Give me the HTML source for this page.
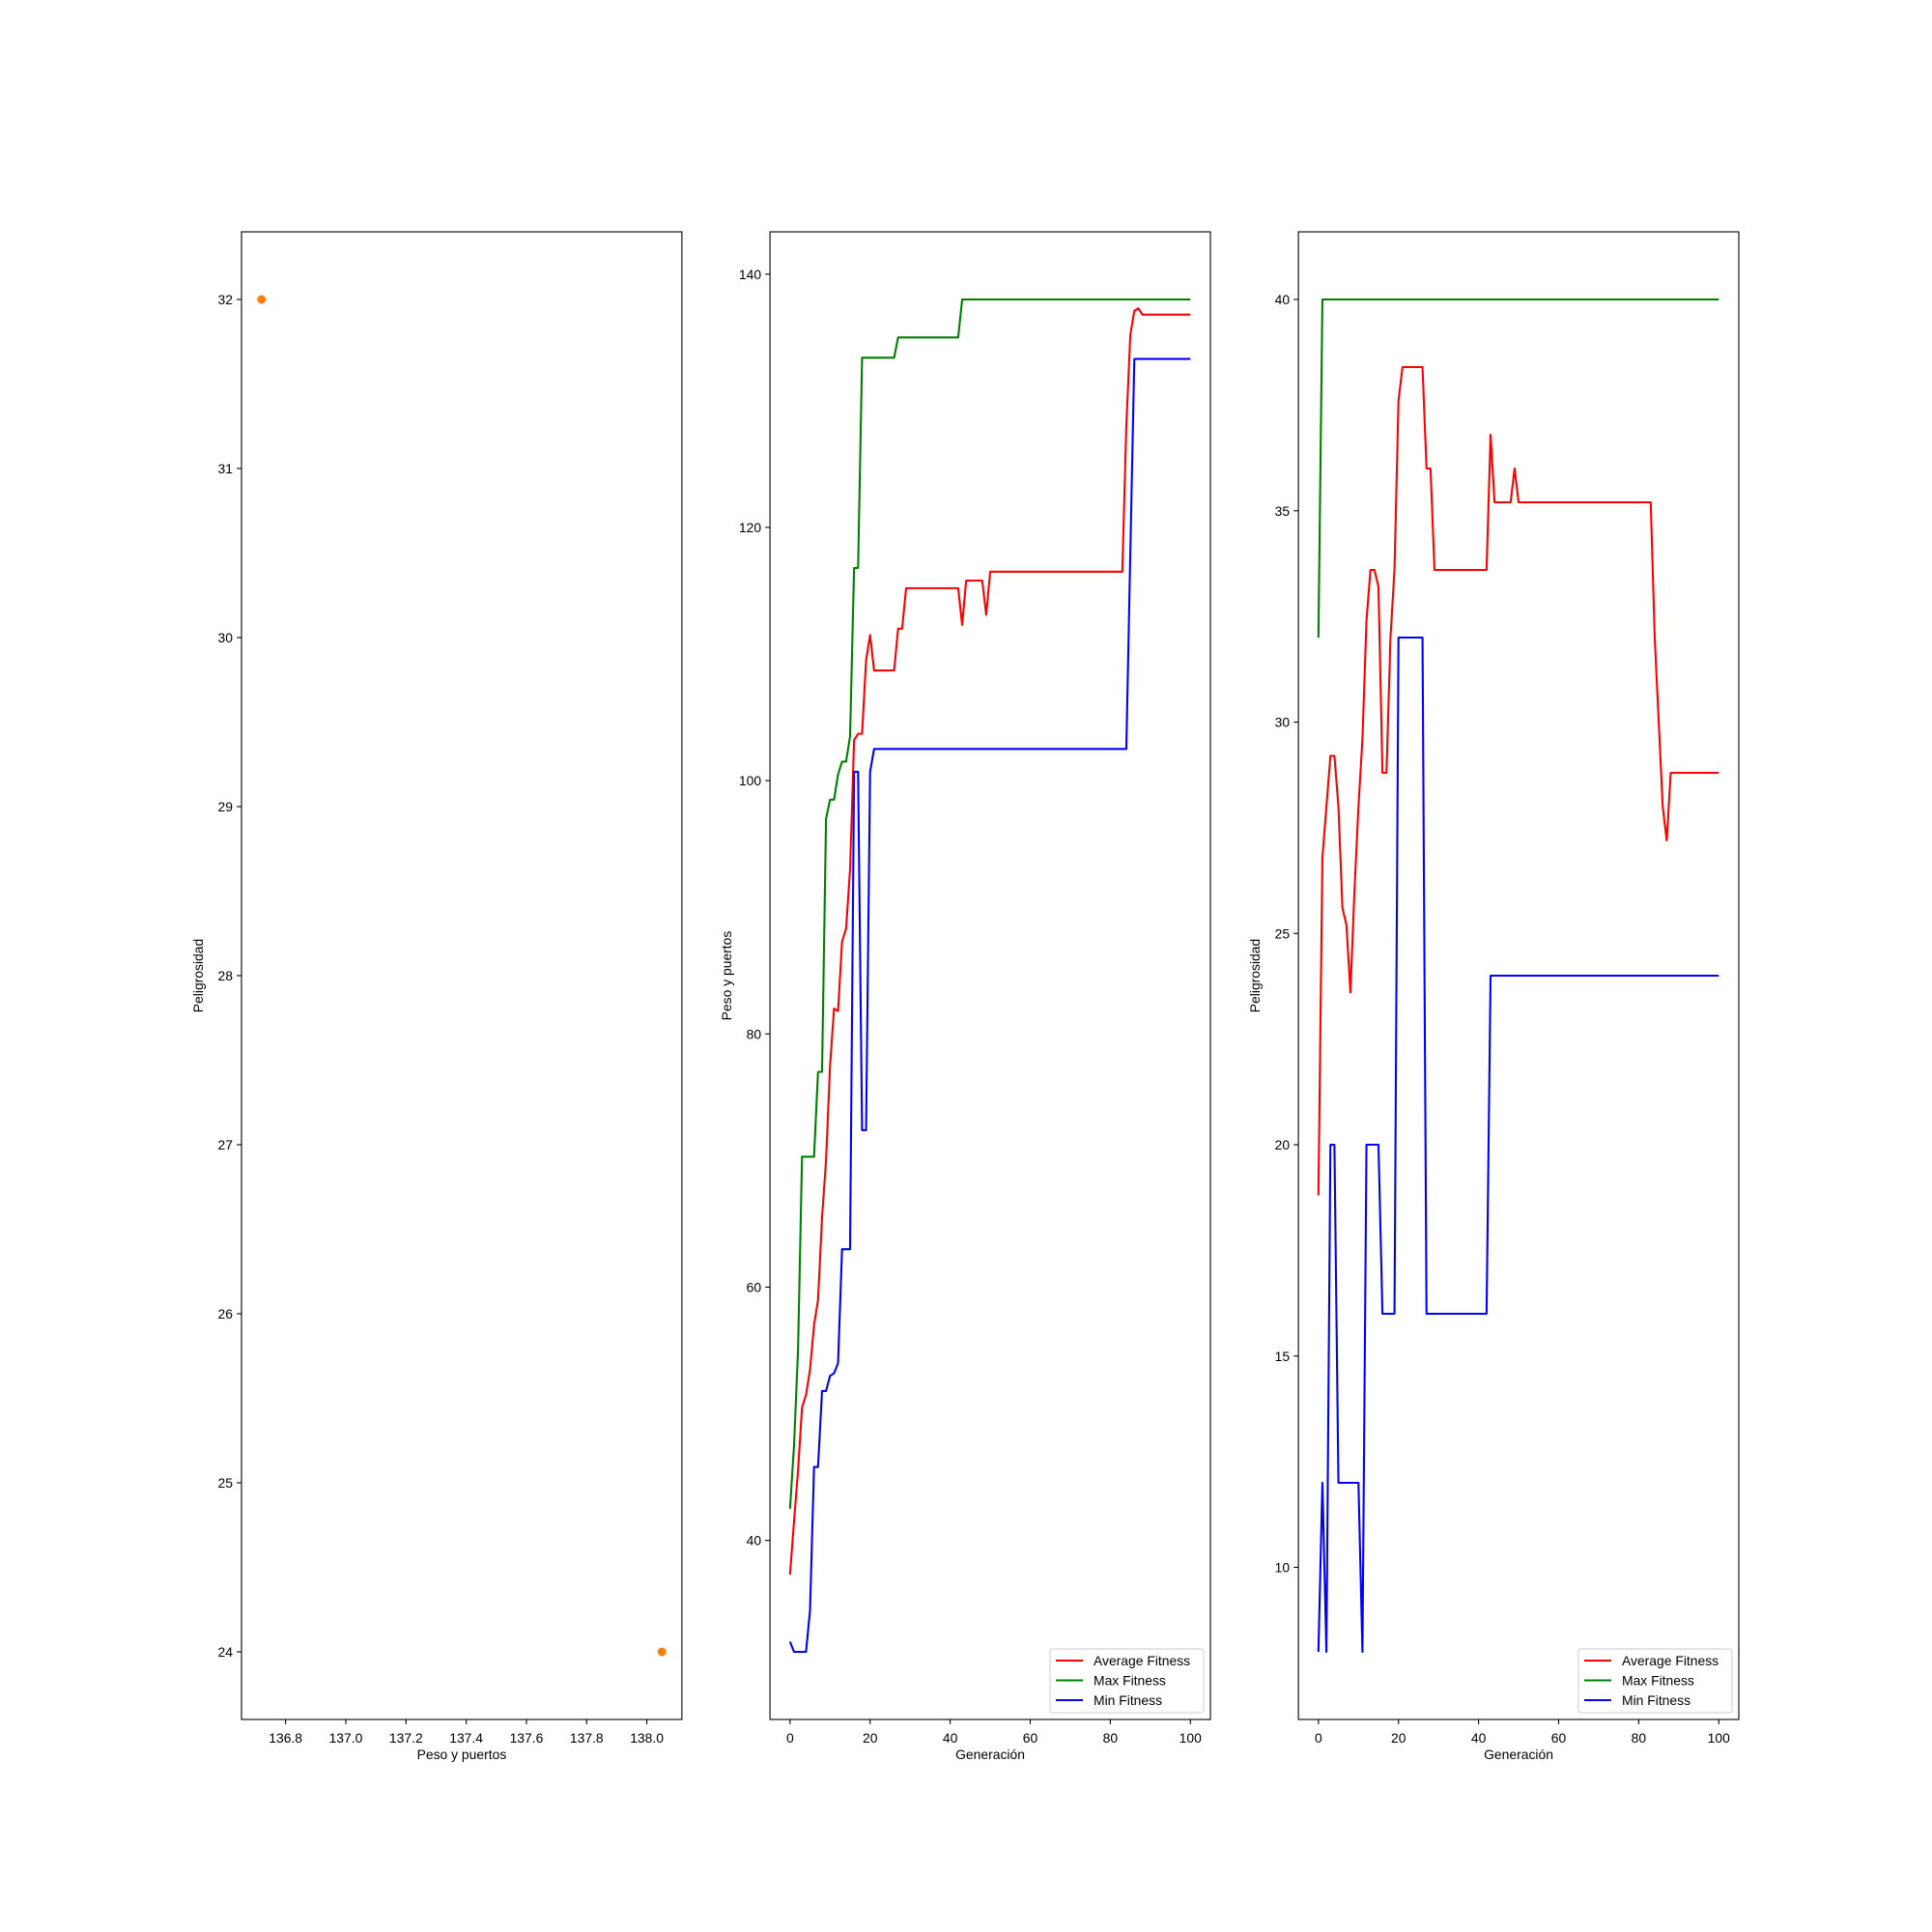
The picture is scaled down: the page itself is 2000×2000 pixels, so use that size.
<!DOCTYPE html>
<html><head><meta charset="utf-8"><style>
body{margin:0;background:#fff}
svg{display:block;font-family:"Liberation Sans","DejaVu Sans",sans-serif}
</style></head><body>
<svg id="fig" width="2000" height="2000" viewBox="0 0 2000 2000"></svg>
<script>
// ---- data ----
const scatterX = [136.72, 138.05];
const scatterY = [32, 24];
const scatterXTicks = [136.8, 137.0, 137.2, 137.4, 137.6, 137.8, 138.0];
const scatterYTicks = [24, 25, 26, 27, 28, 29, 30, 31, 32];

const gens = Array.from({length: 101}, (_, i) => i);
const w_avg = [37.3,41.5,45.5,50.5,51.5,53.5,57,59,65.5,70,77.5,82,81.8,87.3,88.3,93,103.2,103.7,103.7,109.5,111.5,108.7,108.7,108.7,108.7,108.7,108.7,112,112,115.2,115.2,115.2,115.2,115.2,115.2,115.2,115.2,115.2,115.2,115.2,115.2,115.2,115.2,112.3,115.8,115.8,115.8,115.8,115.8,113.1,116.5,116.5,116.5,116.5,116.5,116.5,116.5,116.5,116.5,116.5,116.5,116.5,116.5,116.5,116.5,116.5,116.5,116.5,116.5,116.5,116.5,116.5,116.5,116.5,116.5,116.5,116.5,116.5,116.5,116.5,116.5,116.5,116.5,116.5,128,135.2,137.1,137.3,136.8,136.8,136.8,136.8,136.8,136.8,136.8,136.8,136.8,136.8,136.8,136.8,136.8];
const w_max = [42.5,47.5,55,70.3,70.3,70.3,70.3,77,77,97,98.5,98.5,100.5,101.5,101.5,103.5,116.8,116.8,133.4,133.4,133.4,133.4,133.4,133.4,133.4,133.4,133.4,135,135,135,135,135,135,135,135,135,135,135,135,135,135,135,135,138,138,138,138,138,138,138,138,138,138,138,138,138,138,138,138,138,138,138,138,138,138,138,138,138,138,138,138,138,138,138,138,138,138,138,138,138,138,138,138,138,138,138,138,138,138,138,138,138,138,138,138,138,138,138,138,138,138];
const w_min = [32,31.2,31.2,31.2,31.2,34.5,45.8,45.8,51.8,51.8,53,53.2,54,63,63,63,100.7,100.7,72.4,72.4,100.7,102.5,102.5,102.5,102.5,102.5,102.5,102.5,102.5,102.5,102.5,102.5,102.5,102.5,102.5,102.5,102.5,102.5,102.5,102.5,102.5,102.5,102.5,102.5,102.5,102.5,102.5,102.5,102.5,102.5,102.5,102.5,102.5,102.5,102.5,102.5,102.5,102.5,102.5,102.5,102.5,102.5,102.5,102.5,102.5,102.5,102.5,102.5,102.5,102.5,102.5,102.5,102.5,102.5,102.5,102.5,102.5,102.5,102.5,102.5,102.5,102.5,102.5,102.5,102.5,118,133.3,133.3,133.3,133.3,133.3,133.3,133.3,133.3,133.3,133.3,133.3,133.3,133.3,133.3,133.3];
const wYTicks = [40, 60, 80, 100, 120, 140];

const d_avg = [18.8,26.8,28,29.2,29.2,28,25.6,25.2,23.6,26,28,29.6,32.4,33.6,33.6,33.2,28.8,28.8,32,33.6,37.6,38.4,38.4,38.4,38.4,38.4,38.4,36,36,33.6,33.6,33.6,33.6,33.6,33.6,33.6,33.6,33.6,33.6,33.6,33.6,33.6,33.6,36.8,35.2,35.2,35.2,35.2,35.2,36,35.2,35.2,35.2,35.2,35.2,35.2,35.2,35.2,35.2,35.2,35.2,35.2,35.2,35.2,35.2,35.2,35.2,35.2,35.2,35.2,35.2,35.2,35.2,35.2,35.2,35.2,35.2,35.2,35.2,35.2,35.2,35.2,35.2,35.2,32,30,28,27.2,28.8,28.8,28.8,28.8,28.8,28.8,28.8,28.8,28.8,28.8,28.8,28.8,28.8];
const d_max = [32,40,40,40,40,40,40,40,40,40,40,40,40,40,40,40,40,40,40,40,40,40,40,40,40,40,40,40,40,40,40,40,40,40,40,40,40,40,40,40,40,40,40,40,40,40,40,40,40,40,40,40,40,40,40,40,40,40,40,40,40,40,40,40,40,40,40,40,40,40,40,40,40,40,40,40,40,40,40,40,40,40,40,40,40,40,40,40,40,40,40,40,40,40,40,40,40,40,40,40,40];
const d_min = [8,12,8,20,20,12,12,12,12,12,12,8,20,20,20,20,16,16,16,16,32,32,32,32,32,32,32,16,16,16,16,16,16,16,16,16,16,16,16,16,16,16,16,24,24,24,24,24,24,24,24,24,24,24,24,24,24,24,24,24,24,24,24,24,24,24,24,24,24,24,24,24,24,24,24,24,24,24,24,24,24,24,24,24,24,24,24,24,24,24,24,24,24,24,24,24,24,24,24,24,24];
const dYTicks = [10, 15, 20, 25, 30, 35, 40];
const genTicks = [0, 20, 40, 60, 80, 100];
const legendLabels = ["Average Fitness", "Max Fitness", "Min Fitness"];

// ---- drawing ----
const NS = "http://www.w3.org/2000/svg";
const svg = document.getElementById('fig');
function mk(tag, attrs, parent) {
  const e = document.createElementNS(NS, tag);
  for (const k in attrs) e.setAttribute(k, attrs[k]);
  (parent || svg).appendChild(e);
  return e;
}
function lim(arrs) {
  let lo = Infinity, hi = -Infinity;
  arrs.forEach(a => a.forEach(v => { lo = Math.min(lo, v); hi = Math.max(hi, v); }));
  const m = (hi - lo) * 0.05;
  return [lo - m, hi + m];
}
const TOP = 240, BOT = 1780;
function axes(name, x0, x1, xl, yl, xticks, yticks, xlabel, ylabel, fmtX) {
  const g = mk('g', {});
  
  
  const sx = v => x0 + (v - xl[0]) / (xl[1] - xl[0]) * (x1 - x0);
  const sy = v => BOT - (v - yl[0]) / (yl[1] - yl[0]) * (BOT - TOP);
  xticks.forEach(t => {
    const x = sx(t);
    mk('line', {x1: x, x2: x, y1: BOT, y2: BOT + 4.9, stroke: '#000', 'stroke-width': 1.1}, g);
    const tx = mk('text', {x: x, y: BOT + 24, 'font-size': 13.9, 'text-anchor': 'middle'}, g);
    
    
    tx.textContent = fmtX ? fmtX(t) : t;
  });
  yticks.forEach(t => {
    const y = sy(t);
    mk('line', {x1: x0 - 4.9, x2: x0, y1: y, y2: y, stroke: '#000', 'stroke-width': 1.1}, g);
    const tx = mk('text', {x: x0 - 9, y: y + 5, 'font-size': 13.9, 'text-anchor': 'end'}, g);
    
    
    tx.textContent = t;
  });
  const xt = mk('text', {x: (x0 + x1) / 2, y: BOT + 41, 'font-size': 13.9, 'text-anchor': 'middle'}, g);
  
  
  xt.textContent = xlabel;
  const yt = mk('text', {x: 0, y: 0, 'font-size': 13.9, 'text-anchor': 'middle', transform: `translate(${x0 - 40},${(TOP + BOT) / 2}) rotate(-90)`}, g);
  
  
  yt.textContent = ylabel;
  return {g, sx, sy, x0, x1};
}
function frame(ax) {
  mk('rect', {x: ax.x0, y: TOP, width: ax.x1 - ax.x0, height: BOT - TOP, fill: 'none', stroke: '#000', 'stroke-width': 1.1}, ax.g);
}
function series(ax, ys, color, name) {
  const p = mk('polyline', {points: gens.map((g, i) => ax.sx(g).toFixed(2) + ',' + ax.sy(ys[i]).toFixed(2)).join(' '), fill: 'none', stroke: color, 'stroke-width': 2.1, 'stroke-linejoin': 'round'}, ax.g);
  
  
}
function legend(ax) {
  const w = 159, h = 66, x = ax.x1 - 7 - w, y = BOT - 7 - h;
  const lg = mk('g', {}, ax.g);
  
  
  mk('rect', {x: x, y: y, width: w, height: h, rx: 3, fill: '#fff', 'fill-opacity': 0.8, stroke: '#ccc', 'stroke-width': 1}, lg);
  const cols = ['#ff0000', '#008000', '#0000ff'];
  legendLabels.forEach((l, i) => {
    const yy = y + 12 + i * 20.5;
    const e = mk('g', {}, lg);
    
    
    mk('line', {x1: x + 6, x2: x + 34, y1: yy, y2: yy, stroke: cols[i], 'stroke-width': 2.1}, e);
    const t = mk('text', {x: x + 45, y: yy + 5, 'font-size': 13.9}, e);
    t.textContent = l;
  });
}

// Plot 1: scatter
const a1 = axes('scatter-axes', 250, 705.9, lim([scatterX]), lim([scatterY]), scatterXTicks, scatterYTicks, 'Peso y puertos', 'Peligrosidad', v => v.toFixed(1));
scatterX.forEach((v, i) => {
  const c = mk('circle', {cx: a1.sx(v), cy: a1.sy(scatterY[i]), r: 4.5, fill: '#ff7f0e'}, a1.g);
  
  
});
frame(a1);

// Plot 2
const genLim = lim([gens]);
const a2 = axes('weight-fitness-axes', 797.1, 1253, genLim, lim([w_avg, w_max, w_min]), genTicks, wYTicks, 'Generación', 'Peso y puertos');
series(a2, w_avg, '#ff0000', 'avg-fitness-line');
series(a2, w_max, '#008000', 'max-fitness-line');
series(a2, w_min, '#0000ff', 'min-fitness-line');
frame(a2); legend(a2);

// Plot 3
const a3 = axes('danger-fitness-axes', 1344.1, 1800, genLim, lim([d_avg, d_max, d_min]), genTicks, dYTicks, 'Generación', 'Peligrosidad');
series(a3, d_avg, '#ff0000', 'avg-fitness-line');
series(a3, d_max, '#008000', 'max-fitness-line');
series(a3, d_min, '#0000ff', 'min-fitness-line');
frame(a3); legend(a3);
</script>
</body></html>
